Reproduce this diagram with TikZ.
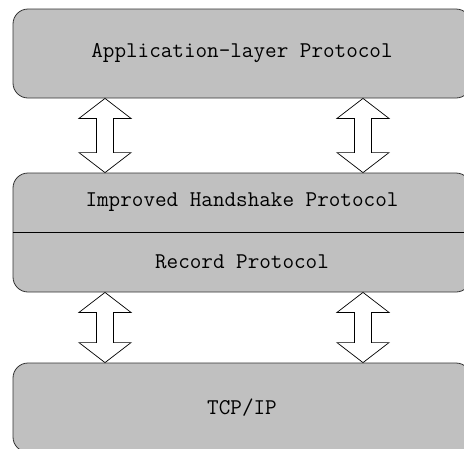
\documentclass[tikz,border=0pt]{standalone}
\usetikzlibrary{calc}
\usetikzlibrary{positioning}
\definecolor{lgray}{RGB}{192,192,192}
\tikzset{layer/.style = {draw=black!80, fill=lgray, rounded corners=15pt,
                         minimum width=458pt, line width=0.8pt, inner sep=0pt,
                         font=\fontsize{22.5}{26}\selectfont\ttfamily}}
\tikzset{layertext/.style = {inner sep=0pt, font=\fontsize{22.5}{26}\selectfont\ttfamily}}
\tikzset{updown/.style = {draw=black, fill=white, line width=0.7pt,
                          to path={(\tikztostart) -- ++(26,20) -- ++(-17.5,0)
                                   -- ($(\tikztotarget)+(8.5,-20)$) -- ++(17.5,0)
                                   -- (\tikztotarget) -- ++(-26,-20) -- ++(17.5,0)
                                   -- ($(\tikztostart)+(-8.5,20)$) -- ++(-17.5,0) -- cycle}}}

\begin{document}
\begin{tikzpicture}[x=1pt, y=-1pt]
    \useasboundingbox (0,0) rectangle (464,448);
    \clip (0,0) rectangle (464,448);

    \node [layer, minimum height=89pt] (app) at (242,53.5) {Application-layer Protocol};

    \node [layer, minimum height=119pt] (mid) at (242,232.5) {};
    \draw [line width=0.8pt] (mid.west) -- (mid.east);
    \node [layertext] (hs) at (242,202.5) {Improved Handshake Protocol};
    \node [layertext] (rec) at (242,262) {Record Protocol};

    \node [layer, minimum height=89pt] (tcp) at (242,407.5) {TCP/IP};

    % arrows between the layers
    \coordinate (a1) at (app.south -| 105,0);
    \coordinate (a2) at (app.south -| 363,0);
    \coordinate (m1) at (mid.north -| 105,0);
    \coordinate (m2) at (mid.north -| 363,0);
    \coordinate (r1) at (mid.south -| 105,0);
    \coordinate (r2) at (mid.south -| 363,0);
    \coordinate (t1) at (tcp.north -| 105,0);
    \coordinate (t2) at (tcp.north -| 363,0);

    \draw [updown] (a1) to (m1);
    \draw [updown] (a2) to (m2);
    \draw [updown] (r1) to (t1);
    \draw [updown] (r2) to (t2);
\end{tikzpicture}
\end{document}
